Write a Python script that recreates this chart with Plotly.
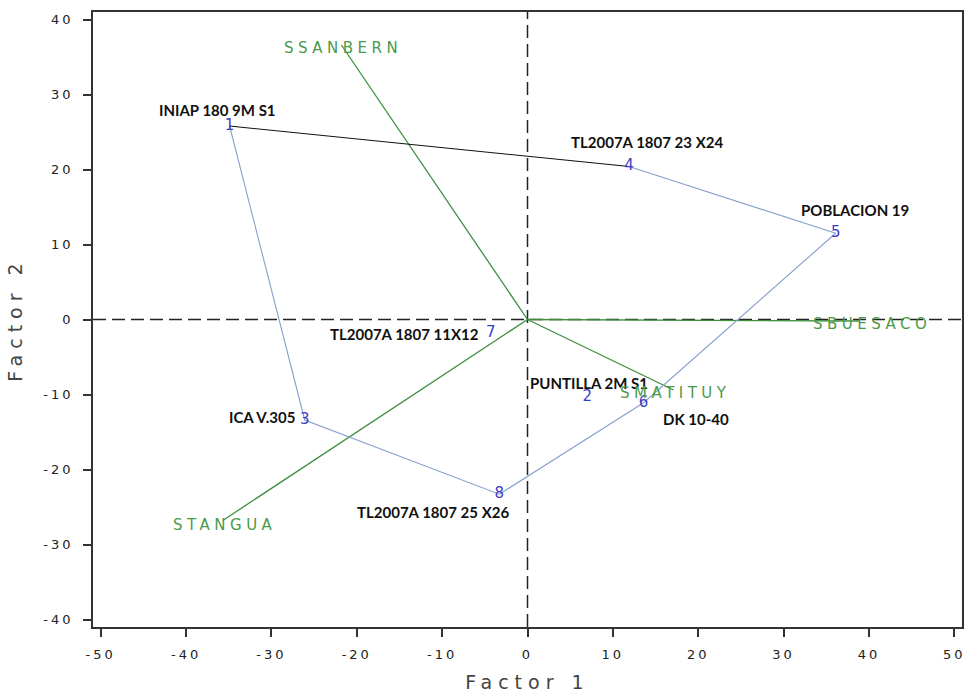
import plotly.graph_objects as go

# ---------------- data ----------------
genotype_ids = ["1", "2", "3", "4", "5", "6", "7", "8"]
genotype_names = ["INIAP 180 9M S1", "PUNTILLA 2M S1", "ICA V.305", "TL2007A 1807 23 X24",
                  "POBLACION 19", "DK 10-40", "TL2007A 1807 11X12", "TL2007A 1807 25 X26"]
factor1 = [-34.9, 7.0, -26.1, 11.9, 36.1, 13.6, -4.3, -3.3]
factor2 = [25.8, -10.4, -13.4, 20.4, 11.5, -11.1, -1.8, -23.3]

hull_blue_order = [4, 5, 6, 8, 3, 1]
hull_black_order = [1, 4]

env_names = ["SSANBERN", "SBUESACO", "SMATITUY", "STANGUA"]
env_f1 = [-21.8, 38.9, 17.1, -35.7]
env_f2 = [36.6, -0.2, -9.4, -26.8]

x_ticks = [-50, -40, -30, -20, -10, 0, 10, 20, 30, 40, 50]
y_ticks = [-40, -30, -20, -10, 0, 10, 20, 30, 40]

# ---------------- styling helpers ----------------
label_style = {  # anchor, xshift, yshift (px) for genotype names
    "1": ("center", -12, 16), "2": ("left", -59, 15), "3": ("right", -8, 3),
    "4": ("center", 18, 25), "5": ("center", 19, 23), "6": ("left", 17, -16),
    "7": ("right", -10, -1), "8": ("center", -66, -18),
}
env_label_shift = {"SSANBERN": (2, -3), "SBUESACO": (12, -3), "SMATITUY": (2, -3), "STANGUA": (2, -4)}

def spaced(t, ls):
    return f"<span style='letter-spacing:{ls}px'>{t}</span>"

def ticklab(v):
    s = str(v).replace("\u2212", "-")
    return spaced(s, 3)

GREEN_LINE = "#3f8f3f"
GREEN_TEXT = "#4a9a4a"
BLUE_LINE = "#86a0cc"
BLUE_NUM = "#3d3dc4"

fig = go.Figure()

# environment vectors
vx, vy = [], []
for a, b in zip(env_f1, env_f2):
    vx += [0, a, None]
    vy += [0, b, None]
fig.add_trace(go.Scatter(x=vx, y=vy, mode="lines", line=dict(color=GREEN_LINE, width=1.3),
                         hoverinfo="skip", showlegend=False))

# polygon
idx = {g: i for i, g in enumerate(genotype_ids)}
bx = [factor1[idx[str(k)]] for k in hull_blue_order]
by = [factor2[idx[str(k)]] for k in hull_blue_order]
fig.add_trace(go.Scatter(x=bx, y=by, mode="lines", line=dict(color=BLUE_LINE, width=1.1),
                         hoverinfo="skip", showlegend=False))
kx = [factor1[idx[str(k)]] for k in hull_black_order]
ky = [factor2[idx[str(k)]] for k in hull_black_order]
fig.add_trace(go.Scatter(x=kx, y=ky, mode="lines", line=dict(color="#111111", width=1.1),
                         hoverinfo="skip", showlegend=False))

# genotype numbers
fig.add_trace(go.Scatter(x=factor1, y=factor2, mode="text", text=genotype_ids,
                         textposition="middle center",
                         textfont=dict(family="DejaVu Sans", size=15, color=BLUE_NUM),
                         hoverinfo="skip", showlegend=False))

annotations = []
for g, name, a, b in zip(genotype_ids, genotype_names, factor1, factor2):
    anc, xs, ys = label_style[g]
    annotations.append(dict(x=a, y=b, xref="x", yref="y", text=f"<b>{name}</b>", showarrow=False,
                            xanchor=anc, yanchor="middle", xshift=xs, yshift=ys,
                            font=dict(family="Lato", size=15, color="#111111")))
for name, a, b in zip(env_names, env_f1, env_f2):
    xs, ys = env_label_shift[name]
    annotations.append(dict(x=a, y=b, xref="x", yref="y", text=spaced(name, 4.5), showarrow=False,
                            xanchor="center", yanchor="middle", xshift=xs, yshift=ys,
                            font=dict(family="DejaVu Sans", size=15, color=GREEN_TEXT)))

# reference dashed lines
shapes = [
    dict(type="line", xref="paper", yref="y", x0=0, x1=1, y0=0, y1=0, layer="below",
         line=dict(color="#222222", width=1.5, dash="13px,6px")),
    dict(type="line", xref="x", yref="paper", x0=0, x1=0, y0=0, y1=1, layer="below",
         line=dict(color="#222222", width=1.5, dash="13px,6px")),
]

axis_common = dict(showgrid=False, zeroline=False, showline=True, linecolor="#333333", linewidth=1.6,
                   mirror=True, ticks="outside", ticklen=8, tickwidth=1.5, tickcolor="#333333",
                   automargin=False,
                   tickfont=dict(family="DejaVu Sans", size=13, color="#222222"))

fig.update_layout(
    width=967, height=693,
    margin=dict(l=93, r=5, t=12, b=66),
    paper_bgcolor="white", plot_bgcolor="white",
    showlegend=False,
    annotations=annotations,
    shapes=shapes,
    xaxis=dict(range=[-50.9, 50.9], tickmode="array", tickvals=x_ticks,
               ticktext=[ticklab(v) for v in x_ticks], ticklabelstandoff=7,
               title=dict(text=spaced("Factor 1", 6), standoff=14,
                          font=dict(family="DejaVu Sans", size=19, color="#444444")),
               **axis_common),
    yaxis=dict(range=[-41, 41], tickmode="array", tickvals=y_ticks,
               ticktext=[ticklab(v) for v in y_ticks], ticklabelstandoff=7,
               title=dict(text=spaced("Factor 2", 6), standoff=16,
                          font=dict(family="DejaVu Sans", size=19, color="#444444")),
               **axis_common),
)

fig.write_html("out.html", config={"displayModeBar": False},
               post_script="document.body.style.margin='0';document.body.style.overflow='hidden';")
